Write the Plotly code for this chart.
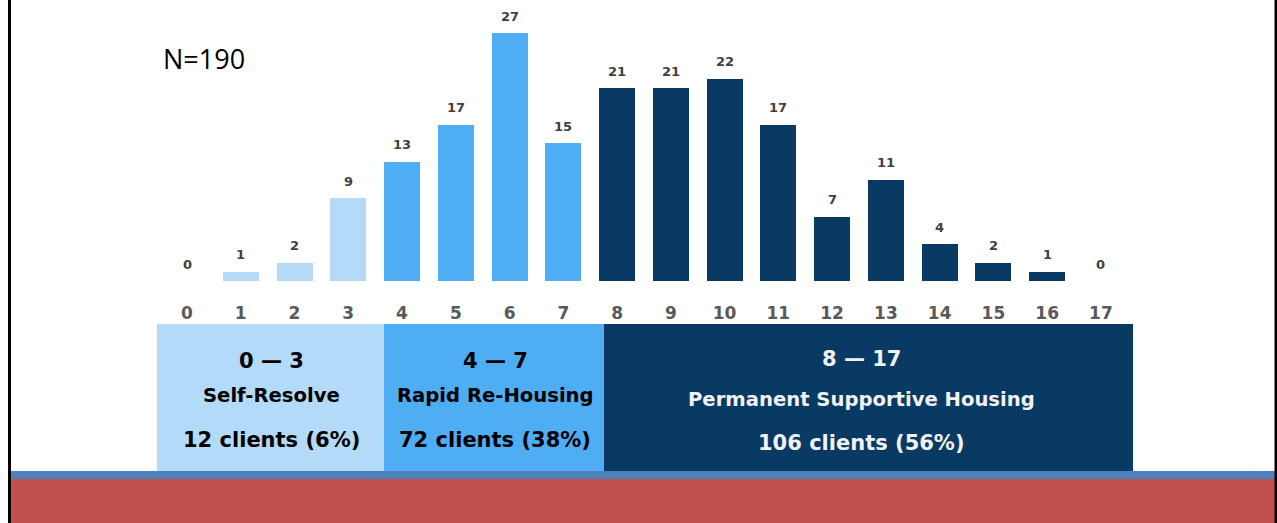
import plotly.graph_objects as go

scores = list(range(18))
clients = [0, 1, 2, 9, 13, 17, 27, 15, 21, 21, 22, 17, 7, 11, 4, 2, 1, 0]
group_of = ["self"] * 4 + ["rrh"] * 4 + ["psh"] * 10
group_colors = {"self": "#B3DAF9", "rrh": "#4FADF3", "psh": "#083A63"}

groups = [
    {"range": "0 \u2014 3", "name": "Self-Resolve", "count": "12 clients (6%)"},
    {"range": "4 \u2014 7", "name": "Rapid Re-Housing", "count": "72 clients (38%)"},
    {"range": "8 \u2014 17", "name": "Permanent Supportive Housing", "count": "106 clients (56%)"},
]
group_keys = ["self", "rrh", "psh"]
text_colors = ["#000000", "#000000", "#F2F2F2"]

W, H = 1277, 523
base_px = 281
px_per_unit = 9.185
x0_px = 187
x_step = 53.76
FONT = "DejaVu Sans"

def px(x):
    return x / W

def py(y):
    return (H - y) / H

fig = go.Figure()
fig.add_trace(go.Bar(
    x=scores, y=clients,
    marker=dict(color=[group_colors[g] for g in group_of], line=dict(width=0)),
    width=0.67, hoverinfo="skip",
))

annotations = []
for s, c in zip(scores, clients):
    annotations.append(dict(
        x=s, y=c, xref="x", yref="y", text=f"<b>{c}</b>", showarrow=False,
        xanchor="center", yanchor="middle", yshift=17,
        font=dict(family=FONT, size=13, color="#404040"),
    ))

shapes = []
box_px = [(157, 384), (384, 604), (604, 1133)]
text_cx = [271, 495, 861]
box_top, box_bot = 324, 471
for (l, r), cxp, key, g, tc in zip(box_px, text_cx, group_keys, groups, text_colors):
    shapes.append(dict(type="rect", xref="paper", yref="paper",
                       x0=px(l), x1=px(r), y0=py(box_bot), y1=py(box_top),
                       fillcolor=group_colors[key], line=dict(width=0), layer="below"))
    cx = px(cxp)
    big = key == "psh"
    annotations.append(dict(xref="paper", yref="paper", x=cx, y=py(359 if big else 361),
                            xanchor="center", yanchor="middle",
                            text=f"<b>{g['range']}</b>", showarrow=False,
                            font=dict(family=FONT, size=21, color=tc)))
    annotations.append(dict(xref="paper", yref="paper", x=cx, y=py(399 if big else 396),
                            xanchor="center", yanchor="middle",
                            text=f"<b>{g['name']}</b>", showarrow=False,
                            font=dict(family=FONT, size=19.6, color=tc)))
    annotations.append(dict(xref="paper", yref="paper", x=cx, y=py(443 if big else 440),
                            xanchor="center", yanchor="middle",
                            text=f"<b>{g['count']}</b>", showarrow=False,
                            font=dict(family=FONT, size=21, color=tc)))

# bottom bands
shapes.append(dict(type="rect", xref="paper", yref="paper", x0=px(11), x1=1,
                   y0=py(479), y1=py(471), fillcolor="#4F81BD", line=dict(width=0)))
shapes.append(dict(type="rect", xref="paper", yref="paper", x0=px(11), x1=1,
                   y0=0, y1=py(479), fillcolor="#C0504D", line=dict(width=0)))
# side borders
shapes.append(dict(type="rect", xref="paper", yref="paper", x0=px(8), x1=px(11),
                   y0=0, y1=1, fillcolor="#000000", line=dict(width=0)))
shapes.append(dict(type="rect", xref="paper", yref="paper", x0=px(1274.5), x1=1,
                   y0=0, y1=1, fillcolor="#000000", line=dict(width=0)))

annotations.append(dict(xref="paper", yref="paper", x=px(161), y=py(58),
                        xanchor="left", yanchor="middle",
                        text="N=190", showarrow=False,
                        font=dict(family="Open Sans", size=27, color="#000000")))

fig.update_layout(
    width=W, height=H,
    margin=dict(l=0, r=0, t=0, b=0),
    paper_bgcolor="white", plot_bgcolor="white",
    showlegend=False,
    bargap=0,
    xaxis=dict(
        range=[-x0_px / x_step, (W - x0_px) / x_step],
        tickmode="array", tickvals=scores, ticktext=[f"<b>{s}</b>" for s in scores],
        tickfont=dict(family=FONT, size=17, color="#595959"),
        showgrid=False, zeroline=False, showline=False, ticks="",
        ticklabelstandoff=20, fixedrange=True,
    ),
    yaxis=dict(
        domain=[(H - base_px) / H, 1],
        range=[0, base_px / px_per_unit],
        visible=False, fixedrange=True,
    ),
    shapes=shapes,
    annotations=annotations,
)

fig.write_html(
    "out.html",
    config={"displayModeBar": False},
    post_script="document.body.style.margin='0';document.body.style.overflow='hidden';",
)
